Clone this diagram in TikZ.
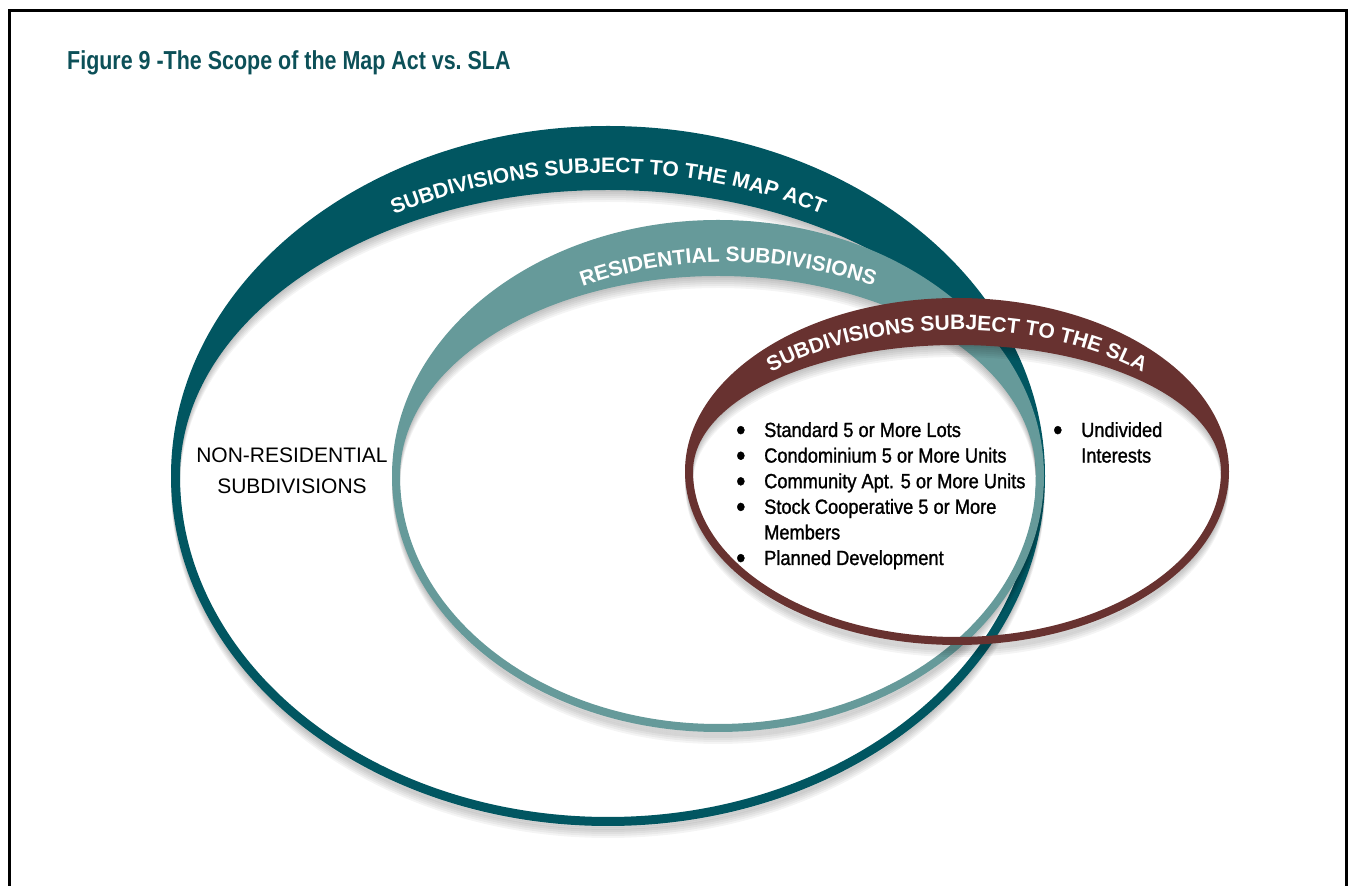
\documentclass[tikz,border=0pt]{standalone}
\usepackage{fontspec}
\setmainfont{Liberation Sans}
\newfontfamily\listfont[FakeStretch=0.89,FakeBold=1.2]{Liberation Sans}
\newfontfamily\titlefont[FakeStretch=0.825]{Liberation Sans}
\usetikzlibrary{calc,decorations.text}

\definecolor{mapteal}{RGB}{1,86,97}
\definecolor{resteal}{RGB}{102,154,154}
\definecolor{slabrown}{RGB}{104,50,48}
\definecolor{titleteal}{RGB}{12,80,88}

\newcommand{\bandfont}{\bfseries\fontsize{21}{25}\selectfont}
\newcommand{\dotmark}{\raisebox{-3pt}{\scalebox{1.45}{\textbullet}}}
% centre (x,y), outer radii (a:b), band thickness (top:bottom)
\def\crescent[#1](#2,#3)(#4:#5)(#6:#7){\fill[even odd rule,#1] (#2,#3) ellipse [x radius=#4, y radius=#5] ({#2+#4-#7},#3) arc[start angle=0, end angle=180, x radius=#4-#7, y radius=#5-#6] arc[start angle=180, end angle=360, x radius=#4-#7, y radius=#5-#7] -- cycle;}
\def\bandtext(#1)(#2:#3:#4:#5)#6{\path[decorate, decoration={text along path, text align=center, text color=white, text={|\bandfont|#6}}] ($(#1)+(#2:#4 and #5)$) arc[start angle=#2, end angle=#3, x radius=#4, y radius=#5];}

\begin{document}
\begin{tikzpicture}[x=1pt, y=1pt, dropshadow/.style={black, opacity=0.045}]
		%%%%% FRAME %%%%%
		\useasboundingbox (0,0) rectangle (1353,886);
		\draw[line width=3pt] (9,0) |- (1346,875) -- (1346,0);
		\node[anchor=base west, inner sep=0, text=titleteal, font={\titlefont\bfseries\fontsize{26}{30}\selectfont}] (title) at (67,816) {Figure 9 -The Scope of the Map Act vs.\ SLA};
		
		%%%%% MAP ACT %%%%%
		\foreach \s in {2,4,...,12} {\crescent[dropshadow, yshift=-\s pt](608,410)(437:350)(64:9)}
		\crescent[mapteal](608,410)(437:350)(64:9)
		\bandtext(608,396)(150:30:432:317){SUBDIVISIONS SUBJECT TO THE MAP ACT}
		
		%%%%% RESIDENTIAL %%%%%
		\foreach \s in {2,4,...,12} {\crescent[dropshadow, yshift=-\s pt](718,410)(326:256)(56:8)}
		\crescent[resteal](718,410)(326:256)(56:8)
		\bandtext(728,398)(150:30:322:226){RESIDENTIAL SUBDIVISIONS}
		
		%%%%% SLA %%%%%
		\foreach \s in {2,4,...,12} {\crescent[dropshadow, yshift=-\s pt](957,414.5)(272:173.5)(47:8)}
		\crescent[slabrown](957,414.5)(272:173.5)(47:8)
		\bandtext(957,404)(155:25:268:152){SUBDIVISIONS SUBJECT TO THE SLA}
		
		%%%%% TEXT %%%%%
		\node[align=center, inner sep=0, font={\fontsize{21}{31}\selectfont}] (nonres) at (292,415.5) {NON-RESIDENTIAL\\SUBDIVISIONS};
		\node[anchor=base west, inner sep=0, font={\listfont\fontsize{20.5}{25.6}\selectfont}] (slalist) at (736,449) {\begin{tabular}[t]{@{}p{28pt}@{}l@{}}
				\dotmark & Standard 5 or More Lots\\
				\dotmark & Condominium 5 or More Units\\
				\dotmark & Community Apt. 5 or More Units\\
				\dotmark & Stock Cooperative 5 or More\\
				& Members\\
				\dotmark & Planned Development
			\end{tabular}};
		\node[anchor=base west, inner sep=0, font={\listfont\fontsize{20.5}{25.6}\selectfont}] (undivided) at (1053,449) {\begin{tabular}[t]{@{}p{28pt}@{}l@{}}
				\dotmark & Undivided\\
				& Interests
			\end{tabular}};
		%%%%% END %%%%%
	\end{tikzpicture}
\end{document}
